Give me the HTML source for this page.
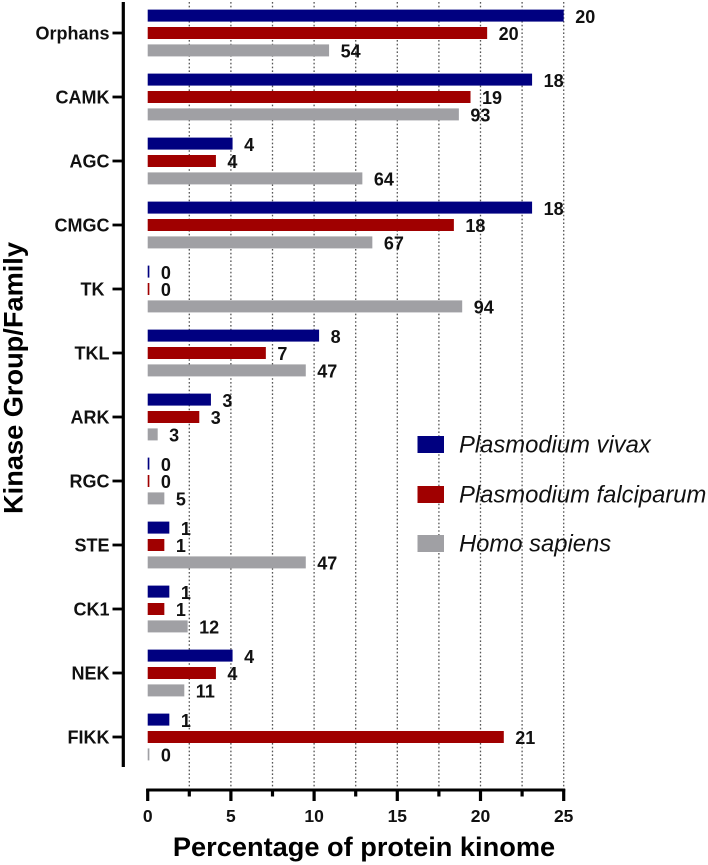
<!DOCTYPE html>
<html lang="en">
<head>
<meta charset="utf-8">
<title>Kinase groups as percentage of protein kinome</title>
<style>
html,body{margin:0;padding:0;background:#fff;width:708px;height:865px;overflow:hidden}
svg{display:block;font-family:"Liberation Sans",sans-serif}
text{white-space:pre}
</style>
</head>
<body>
<svg id="chart" xmlns="http://www.w3.org/2000/svg" width="708" height="865" viewBox="0 0 708 865"></svg>
<script>
const categories = ["Orphans","CAMK","AGC","CMGC","TK ","TKL","ARK","RGC","STE","CK1","NEK","FIKK"];
const vivaxValues = [25.0,23.1,5.1,23.1,0.1,10.3,3.8,0.1,1.3,1.3,5.1,1.3];
const falciparumValues = [20.4,19.4,4.1,18.4,0.1,7.1,3.1,0.1,1.0,1.0,4.1,21.4];
const sapiensValues = [10.9,18.7,12.9,13.5,18.9,9.5,0.6,1.0,9.5,2.4,2.2,0.1];
const vivaxCounts = ["20","18","4","18","0","8","3","0","1","1","4","1"];
const falciparumCounts = ["20","19","4","18","0","7","3","0","1","1","4","21"];
const sapiensCounts = ["54","93","64","67","94","47","3","5","47","12","11","0"];
const xMajorTicks = [0,5,10,15,20,25];
const xMinorTicks = [2.5,7.5,12.5,17.5,22.5];
const seriesNames = ["Plasmodium vivax","Plasmodium falciparum","Homo sapiens"];

const svg = document.getElementById('chart');
const NS = 'http://www.w3.org/2000/svg';
const seriesColors = ['#000080','#a00000','#a0a0a4'];
const seriesKeys = ['vivax','falciparum','sapiens'];
const seriesValues = [vivaxValues,falciparumValues,sapiensValues];
const seriesCounts = [vivaxCounts,falciparumCounts,sapiensCounts];

function xScale(v){ return 147.7 + v * (563.7 - 147.7) / 25; }
function yScale(i){ return 33 + i * (737 - 33) / (categories.length - 1); }
function make(tag, attrs, text){
  const el = document.createElementNS(NS, tag);
  for (const k in attrs) el.setAttribute(k, attrs[k]);
  if (text !== undefined) el.textContent = text;
  svg.appendChild(el);
  return el;
}

/* vertical dotted grid lines */
[...xMinorTicks, ...xMajorTicks.slice(1)].forEach(function(t){
  const el = make('line',{x1:xScale(t),x2:xScale(t),y1:2,y2:789,stroke:'#555',
    'stroke-width':1.3,'stroke-dasharray':'1.6 2.2'});
  
  
});

/* bars and value labels */
const barOffset = [-17.4,0,17.4];
categories.forEach(function(cat,i){
  const slug = cat.trim().toLowerCase();
  seriesValues.forEach(function(vals,s){
    const cy = yScale(i) + barOffset[s];
    const bar = make('rect',{x:xScale(0),y:cy-6,width:Math.max(xScale(vals[i])-xScale(0),1.2),height:12,fill:seriesColors[s]});
    
    
    const lab = make('text',{x:xScale(vals[i])+11.5,y:cy+7.2,'font-size':18,'font-weight':'bold',fill:'#111'},seriesCounts[s][i]);
    
    
  });
  const tick = make('line',{x1:112.5,x2:122,y1:yScale(i),y2:yScale(i),stroke:'#000','stroke-width':2.8});
  
  
  const label = make('text',{x:109.5,y:yScale(i)+6.5,'text-anchor':'end','font-size':18,'font-weight':'bold',fill:'#111'},cat);
  
  
});

/* y axis */
const yAxis = make('line',{x1:123.3,x2:123.3,y1:2,y2:767,stroke:'#000','stroke-width':3.2});



/* x axis */
const xAxis = make('line',{x1:xScale(0)-1.5,x2:xScale(25)+1.5,y1:790,y2:790,stroke:'#000','stroke-width':3});


xMajorTicks.forEach(function(t){
  const tick = make('line',{x1:xScale(t),x2:xScale(t),y1:789,y2:801,stroke:'#000','stroke-width':3.2});
  
  
  const label = make('text',{x:xScale(t),y:822,'text-anchor':'middle','font-size':17.5,'font-weight':'bold',fill:'#111'},String(t));
  
  
});
xMinorTicks.forEach(function(t){
  const tick = make('line',{x1:xScale(t),x2:xScale(t),y1:789,y2:796.5,stroke:'#000','stroke-width':3.2});
  
  
});

/* axis titles */
const xTitle = make('text',{x:364,y:856,'text-anchor':'middle','font-size':27.2,'font-weight':'bold',fill:'#000'},'Percentage of protein kinome');


const yTitle = make('text',{x:0,y:0,transform:'translate(22.5,378) rotate(-90)','text-anchor':'middle','font-size':27.2,'font-weight':'bold',fill:'#000'},'Kinase Group/Family');



/* legend */
const legendY = [444.5,494.5,543.5];
seriesNames.forEach(function(name,s){
  const swatch = make('rect',{x:417.5,y:legendY[s]-8.5,width:26.5,height:17,fill:seriesColors[s]});
  
  
  const text = make('text',{x:459,y:legendY[s]+8,'font-size':23.8,'font-style':'italic',fill:'#111'},name);
  
  
});
</script>
</body>
</html>
